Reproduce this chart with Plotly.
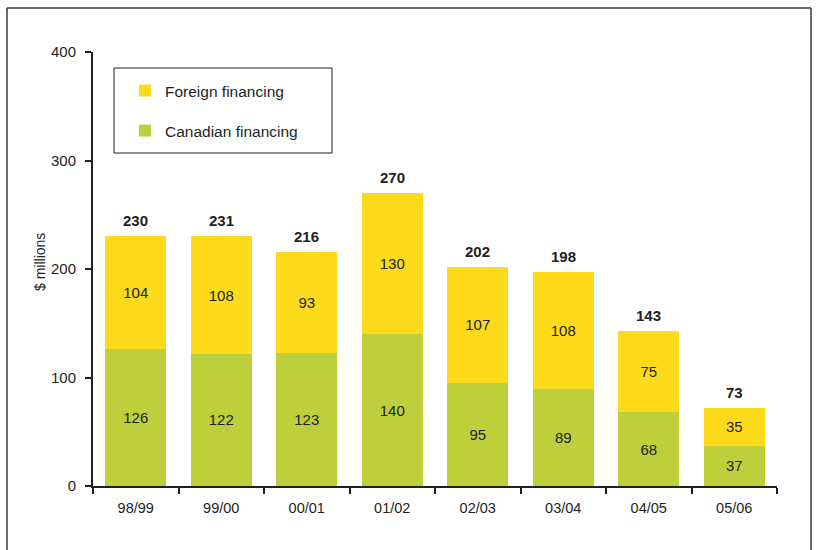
import plotly.graph_objects as go

years = ["98/99", "99/00", "00/01", "01/02", "02/03", "03/04", "04/05", "05/06"]
canadian = [126, 122, 123, 140, 95, 89, 68, 37]
foreign = [104, 108, 93, 130, 107, 108, 75, 35]
totals = [230, 231, 216, 270, 202, 198, 143, 73]
y_ticks = [0, 100, 200, 300, 400]

YELLOW = "#FDDA1C"
GREEN = "#BDD03C"
INK = "#231F20"
FONT = "Arial, Liberation Sans, sans-serif"

W, H = 818, 550
L_s, R_s, T_s, B_s = 93, 777, 52, 486  # plot area in page px
L, T, R, B = L_s, T_s, W - R_s, H - B_s
pw, ph = R_s - L_s, B_s - T_s

def px(x):
    return (x - L_s) / pw

def py(y):
    return (B_s - y) / ph

fig = go.Figure()
fig.add_trace(go.Bar(
    x=years, y=canadian, name="Canadian financing", marker=dict(color=GREEN, line=dict(width=0)),
    text=[str(v) for v in canadian], textposition="inside", insidetextanchor="middle",
    textangle=0, constraintext="none",
    textfont=dict(family=FONT, size=15, color=INK), legend="legend2",
))
fig.add_trace(go.Bar(
    x=years, y=foreign, name="Foreign financing", marker=dict(color=YELLOW, line=dict(width=0)),
    text=[str(v) for v in foreign], textposition="inside", insidetextanchor="middle",
    textangle=0, constraintext="none",
    textfont=dict(family=FONT, size=15, color=INK), legend="legend",
))

for yr, t, c, f in zip(years, totals, canadian, foreign):
    fig.add_annotation(x=yr, y=c + f, text=f"<b>{t}</b>", showarrow=False,
                       yanchor="bottom", yshift=5,
                       font=dict(family=FONT, size=15, color=INK))

fig.add_annotation(x=px(40), y=py(262), xref="paper", yref="paper", text="$ millions",
                   xanchor="center", yanchor="middle",
                   textangle=-90, showarrow=False, font=dict(family=FONT, size=14, color=INK))

# legend box
fig.add_shape(type="rect", xref="paper", yref="paper", x0=px(114), x1=px(332), y0=py(153), y1=py(68),
              line=dict(color=INK, width=1), fillcolor="rgba(0,0,0,0)")
# outer frame (open at bottom, runs off the page)
frame = dict(color="#3a3a3a", width=1.5)
fig.add_shape(type="line", xref="paper", yref="paper", x0=px(7), x1=px(811), y0=py(8), y1=py(8), line=frame)
fig.add_shape(type="line", xref="paper", yref="paper", x0=px(7), x1=px(7), y0=py(8), y1=py(560), line=frame)
fig.add_shape(type="line", xref="paper", yref="paper", x0=px(811), x1=px(811), y0=py(8), y1=py(560), line=frame)

legend_common = dict(xanchor="left", yanchor="middle", bgcolor="rgba(0,0,0,0)", borderwidth=0,
                     font=dict(family=FONT, size=15.5, color=INK), itemwidth=30)
fig.update_layout(
    barmode="stack", bargap=0.29,
    width=W, height=H, margin=dict(l=L, r=R, t=T, b=B),
    paper_bgcolor="white", plot_bgcolor="white",
    font=dict(family=FONT, size=14, color=INK),
    showlegend=True,
    legend=dict(x=px(125), y=py(91), **legend_common),
    legend2=dict(x=px(125), y=py(131), **legend_common),
)
fig.update_xaxes(showline=True, linecolor=INK, linewidth=2, ticks="outside", ticklen=6, tickwidth=2,
                 tickcolor=INK, tickson="boundaries", range=[-0.5, 7.5], showgrid=False,
                 tickfont=dict(family=FONT, size=14.5, color=INK), ticklabelstandoff=8)
fig.update_yaxes(showline=True, linecolor=INK, linewidth=2, ticks="outside", ticklen=6, tickwidth=2,
                 tickcolor=INK, range=[0, 400], tickvals=y_ticks, showgrid=False, zeroline=False,
                 tickfont=dict(family=FONT, size=15, color=INK), ticklabelstandoff=6)

fig.write_html("out.html", config={"displayModeBar": False},
               post_script="document.body.style.margin='0px';document.body.style.overflow='hidden';")
